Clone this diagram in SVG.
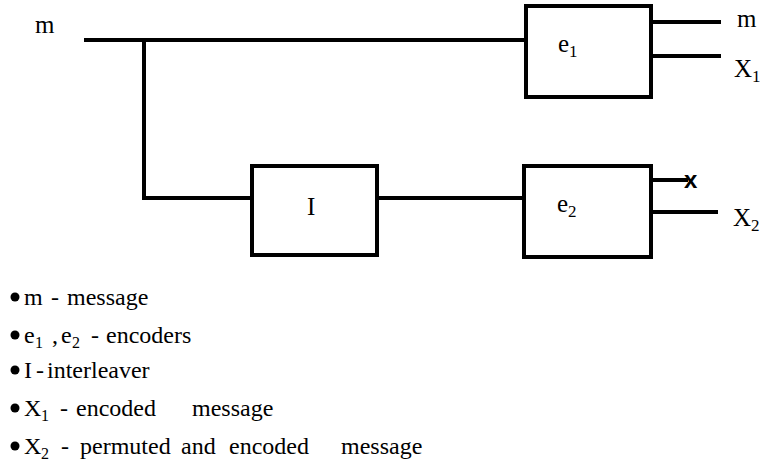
<svg xmlns="http://www.w3.org/2000/svg" width="768" height="473" viewBox="0 0 768 473">
<style>
.ln{stroke:#000;stroke-width:4;fill:none}
.bx{stroke:#000;stroke-width:4;fill:#fff}
text{font-family:'Liberation Serif','Times New Roman','DejaVu Serif',serif;font-size:25px;fill:#000}
#legend text{font-size:24px}
.s{font-size:17px}
#legend .s{font-size:16px}
.sans{font-family:'Liberation Sans',Arial,sans-serif;font-size:24px;font-weight:bold}
</style>
<rect width="768" height="473" fill="#fff"/>
<g id="connectors">
<polyline class="ln" points="84,40 526,40"/>
<polyline class="ln" points="144,40 144,198 252,198"/>
<polyline class="ln" points="377,198 524,198"/>
<line class="ln" x1="651" y1="22" x2="721" y2="22"/>
<line class="ln" x1="651" y1="56" x2="721" y2="56"/>
<line class="ln" x1="651" y1="180" x2="688" y2="180"/>
<line class="ln" x1="651" y1="212" x2="718" y2="212"/>
</g>
<g id="label-m-in"><text x="35" y="33">m</text></g>
<g id="e1">
<rect class="bx" x="526" y="6" width="125" height="91"/>
<text x="558" y="52">e<tspan class="s" dy="5">1</tspan></text>
</g>
<g id="I">
<rect class="bx" x="252" y="166" width="125" height="89"/>
<text x="307" y="215">I</text>
</g>
<g id="e2">
<rect class="bx" x="524" y="166" width="127" height="91"/>
<text x="557" y="212">e<tspan class="s" dy="5">2</tspan></text>
</g>
<g id="out-m"><text x="737" y="27">m</text></g>
<g id="out-x1"><text x="734" y="77">X<tspan class="s" dy="5">1</tspan></text></g>
<g id="out-x"><text class="sans" x="684" y="188">x</text></g>
<g id="out-x2"><text x="733" y="226">X<tspan class="s" dy="5">2</tspan></text></g>
<g id="legend">
<circle cx="15" cy="297" r="4.5"/>
<text y="305"><tspan x="24">m</tspan><tspan x="51">-</tspan><tspan x="67">message</tspan></text>
<circle cx="15" cy="335" r="4.5"/>
<text y="343"><tspan x="24">e</tspan><tspan x="35" class="s" dy="5">1</tspan><tspan x="52" dy="-5">,</tspan><tspan x="61">e</tspan><tspan x="72" class="s" dy="5">2</tspan><tspan x="91" dy="-5">-</tspan><tspan x="106">encoders</tspan></text>
<circle cx="15" cy="370" r="4.5"/>
<text y="378"><tspan x="24">I</tspan><tspan x="36">-</tspan><tspan x="47">interleaver</tspan></text>
<circle cx="15" cy="408" r="4.5"/>
<text y="416"><tspan x="24">X</tspan><tspan x="41" class="s" dy="5">1</tspan><tspan x="60" dy="-5">-</tspan><tspan x="76">encoded</tspan><tspan x="192">message</tspan></text>
<circle cx="15" cy="446" r="4.5"/>
<text y="454"><tspan x="24">X</tspan><tspan x="41" class="s" dy="5">2</tspan><tspan x="61" dy="-5">-</tspan><tspan x="80">permuted</tspan><tspan x="181">and</tspan><tspan x="229">encoded</tspan><tspan x="341">message</tspan></text>
</g>
</svg>
